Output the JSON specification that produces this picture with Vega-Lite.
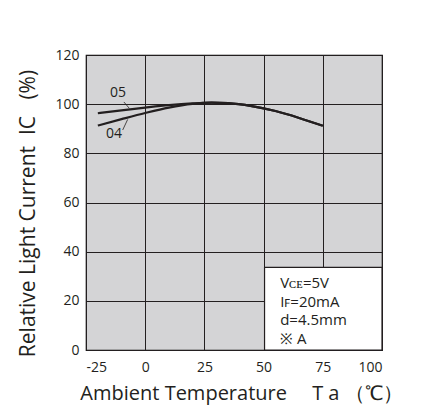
{
  "$schema": "https://vega.github.io/schema/vega-lite/v6.json",
  "width": 296,
  "height": 295,
  "autosize": "none",
  "padding": {"left": 86, "top": 55, "right": 51, "bottom": 69},
  "background": "white",
  "config": {
    "font": "Open Sans",
    "view": {"fill": "#d4d4d6", "stroke": "black", "strokeWidth": 1.2}
  },
  "datasets": {
    "curves": [
      {"series": "05", "t": -20, "ic": 96.3},
      {"series": "05", "t": -10, "ic": 97.5},
      {"series": "05", "t": 0, "ic": 98.6},
      {"series": "05", "t": 10, "ic": 99.6},
      {"series": "05", "t": 20, "ic": 100.3},
      {"series": "05", "t": 28, "ic": 100.6},
      {"series": "05", "t": 35, "ic": 100.4},
      {"series": "05", "t": 45, "ic": 99.2},
      {"series": "05", "t": 55, "ic": 97.2},
      {"series": "05", "t": 65, "ic": 94.4},
      {"series": "05", "t": 75, "ic": 91.2},
      {"series": "04", "t": -20, "ic": 91.3},
      {"series": "04", "t": -10, "ic": 93.9},
      {"series": "04", "t": 0, "ic": 96.4},
      {"series": "04", "t": 10, "ic": 98.6},
      {"series": "04", "t": 20, "ic": 100.1},
      {"series": "04", "t": 28, "ic": 100.6},
      {"series": "04", "t": 35, "ic": 100.4},
      {"series": "04", "t": 45, "ic": 99.2},
      {"series": "04", "t": 55, "ic": 97.2},
      {"series": "04", "t": 65, "ic": 94.4},
      {"series": "04", "t": 75, "ic": 91.2}
    ],
    "labels": [
      {"label": "05", "t": -11.5, "ic": 104.5, "t1": -9.0, "ic1": 100.9, "t2": -6.7, "ic2": 98.3},
      {"label": "04", "t": -13.2, "ic": 88.0, "t1": -9.5, "ic1": 89.5, "t2": -7.4, "ic2": 93.8}
    ],
    "note": [
      {"x0": 50.4, "x1": 100, "y0": 0, "y1": 33.6, "tx": 57, "ty": 25.1}
    ]
  },
  "layer": [
    {
      "data": {"name": "curves"},
      "mark": {"type": "line", "color": "#231f20", "strokeWidth": 2.2, "interpolate": "monotone", "clip": true},
      "encoding": {
        "x": {
          "field": "t", "type": "quantitative",
          "scale": {"domain": [-25, 100], "nice": false, "zero": false},
          "axis": {
            "values": [-25, 0, 25, 50, 75, 100],
            "labelExpr": "datum.value",
            "title": "Ambient Temperature\u3000\u00a0T a\u00a0（℃）",
            "titleFontSize": 20, "titleFontWeight": "normal", "titleColor": "#231f20",
            "titleX": 155, "titleY": 43, "titleAlign": "center", "titleBaseline": "middle",
            "labelFontSize": 14, "labelColor": "#231f20", "labelPadding": 10,
            "ticks": false, "domain": false,
            "gridColor": "#231f20", "gridOpacity": 1, "gridWidth": 1
          }
        },
        "y": {
          "field": "ic", "type": "quantitative",
          "scale": {"domain": [0, 120], "nice": false},
          "axis": {
            "values": [0, 20, 40, 60, 80, 100, 120],
            "title": "Relative Light Current\u00a0 IC\u00a0\u00a0 (%)",
            "titleFontSize": 21, "titleFontWeight": "normal", "titleColor": "#231f20",
            "titleX": -58, "titleY": 158, "titleAlign": "center", "titleBaseline": "middle", "titleAngle": 270,
            "labelFontSize": 14, "labelColor": "#231f20", "labelPadding": 7,
            "ticks": false, "domain": false,
            "gridColor": "#231f20", "gridOpacity": 1, "gridWidth": 1
          }
        },
        "detail": {"field": "series"}
      }
    },
    {
      "data": {"name": "labels"},
      "mark": {"type": "text", "fontSize": 14, "color": "#231f20", "align": "center", "baseline": "middle"},
      "encoding": {
        "x": {"field": "t", "type": "quantitative"},
        "y": {"field": "ic", "type": "quantitative"},
        "text": {"field": "label"}
      }
    },
    {
      "data": {"name": "labels"},
      "mark": {"type": "rule", "color": "#231f20", "strokeWidth": 0.8},
      "encoding": {
        "x": {"field": "t1", "type": "quantitative"},
        "y": {"field": "ic1", "type": "quantitative"},
        "x2": {"field": "t2"},
        "y2": {"field": "ic2"}
      }
    },
    {
      "data": {"name": "note"},
      "mark": {"type": "rect", "fill": "white", "stroke": "#231f20", "strokeWidth": 1.2},
      "encoding": {
        "x": {"field": "x0", "type": "quantitative"},
        "x2": {"field": "x1"},
        "y": {"field": "y0", "type": "quantitative"},
        "y2": {"field": "y1"}
      }
    },
    {
      "data": {"name": "note"},
      "mark": {"type": "text", "fontSize": 15, "color": "#231f20", "align": "left", "baseline": "alphabetic", "lineHeight": 18.5},
      "encoding": {
        "x": {"field": "tx", "type": "quantitative"},
        "y": {"field": "ty", "type": "quantitative"},
        "text": {"value": ["Vᴄᴇ=5V", "Iꜰ=20mA", "d=4.5mm", "※ A"]}
      }
    }
  ]
}
